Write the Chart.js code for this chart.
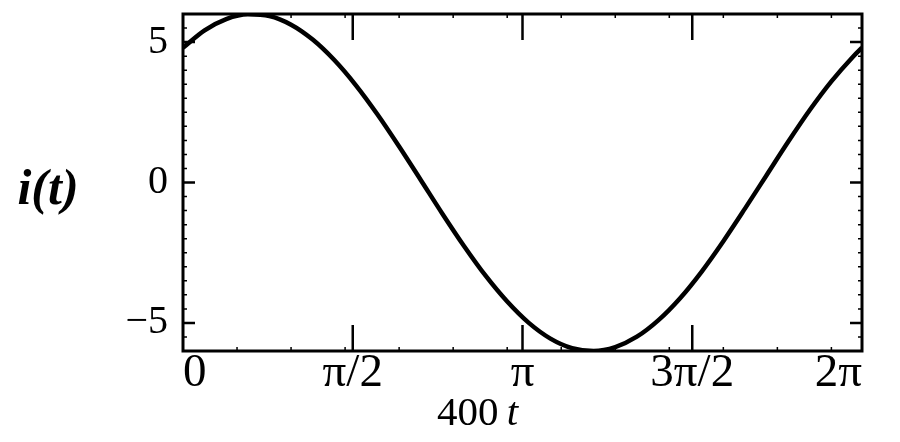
<!DOCTYPE html>
<html>
<head>
<meta charset="utf-8">
<script src="https://cdn.jsdelivr.net/npm/chart.js@4.4.1/dist/chart.umd.min.js"></script>
<style>
html,body{margin:0;padding:0;background:#fff;}
#wrap{width:900px;height:442px;position:relative;}
</style>
</head>
<body>
<div id="wrap"><canvas id="c" width="900" height="442"></canvas></div>
<script>
// Data (x = 400t in radians, y = i(t))
const xValues = [0, 0.2, 0.4, 0.6, 0.8, 1.0, 1.2, 1.4, 1.6, 1.8, 2.0, 2.2, 2.4, 2.6, 2.8, 3.0, 3.2, 3.4, 3.6, 3.8, 4.0, 4.2, 4.4, 4.6, 4.8, 5.0, 5.2, 5.4, 5.6, 5.8, 6.0, 6.2, 6.283];
const iValues = [4.80, 5.42, 5.82, 5.99, 5.93, 5.62, 5.09, 4.36, 3.46, 2.42, 1.28, 0.09, -1.11, -2.26, -3.32, -4.24, -5.00, -5.56, -5.90, -6.00, -5.86, -5.49, -4.90, -4.12, -3.17, -2.09, -0.93, 0.26, 1.45, 2.58, 3.60, 4.48, 4.80];
const xTickValues = [0, Math.PI / 2, Math.PI, 3 * Math.PI / 2, 2 * Math.PI];
const xTickLabels = ['0', 'π/2', 'π', '3π/2', '2π'];
const xMinorTicks = [0.5, 1.0, 1.5, 2.0, 2.5, 3.0, 3.5, 4.0, 4.5, 5.0, 5.5, 6.0];
const yTickValues = [-5, 0, 5];
const yTickLabels = ['−5', '0', '5'];
const yMinorTicks = [-5.5, -4.5, -4, -3.5, -3, -2.5, -2, -1.5, -1, -0.5, 0.5, 1, 1.5, 2, 2.5, 3, 3.5, 4, 4.5, 5.5];
const xAxisTitle = ['400', 't'];
const yAxisTitle = 'i(t)';

const points = xValues.map((x, k) => ({x: x, y: iValues[k]}));

const framePlugin = {
  id: 'frame',
  afterDraw(chart) {
    const ctx = chart.ctx;
    const a = chart.chartArea;
    const xs = chart.scales.x, ys = chart.scales.y;
    ctx.save();
    ctx.strokeStyle = '#000';
    ctx.lineWidth = 3;
    ctx.strokeRect(a.left, a.top, a.right - a.left, a.bottom - a.top);
    ctx.lineWidth = 2.5;
    ctx.beginPath();
    xTickValues.forEach(v => {
      const p = xs.getPixelForValue(v);
      if (v > 0.01 && v < 6.2) {
        ctx.moveTo(p, a.bottom); ctx.lineTo(p, a.bottom - 26);
        ctx.moveTo(p, a.top); ctx.lineTo(p, a.top + 26);
      }
    });
    yTickValues.forEach(v => {
      const p = ys.getPixelForValue(v);
      ctx.moveTo(a.left, p); ctx.lineTo(a.left + 12, p);
      ctx.moveTo(a.right, p); ctx.lineTo(a.right - 12, p);
    });
    ctx.stroke();
    ctx.lineWidth = 1.5;
    ctx.beginPath();
    xMinorTicks.forEach(v => {
      const p = xs.getPixelForValue(v);
      ctx.moveTo(p, a.bottom); ctx.lineTo(p, a.bottom - 4);
      ctx.moveTo(p, a.top); ctx.lineTo(p, a.top + 4);
    });
    yMinorTicks.forEach(v => {
      const p = ys.getPixelForValue(v);
      ctx.moveTo(a.left, p); ctx.lineTo(a.left + 4, p);
      ctx.moveTo(a.right, p); ctx.lineTo(a.right - 4, p);
    });
    ctx.stroke();

    // axis titles
    ctx.fillStyle = '#000';
    ctx.textBaseline = 'alphabetic';
    ctx.textAlign = 'left';
    ctx.font = '41px "Liberation Serif"';
    const numW = ctx.measureText(xAxisTitle[0] + ' ').width;
    const startX = 437;
    ctx.fillText(xAxisTitle[0], startX, 425);
    ctx.font = 'italic 41px "Liberation Serif"';
    ctx.fillText(xAxisTitle[1], startX + numW - 2, 425);

    ctx.font = 'bold italic 50px "Liberation Serif"';
    ctx.textAlign = 'center';
    ctx.fillText(yAxisTitle, 48, 204);
    ctx.restore();
  }
};

new Chart(document.getElementById('c'), {
  type: 'line',
  data: {
    datasets: [{
      data: points,
      borderColor: '#000',
      borderWidth: 4.5,
      pointRadius: 0,
      cubicInterpolationMode: 'monotone',
      fill: false
    }]
  },
  options: {
    responsive: false,
    animation: false,
    devicePixelRatio: 1,
    layout: {padding: {top: 14, right: 38, left: 0, bottom: 0}},
    plugins: {legend: {display: false}, tooltip: {enabled: false}},
    scales: {
      x: {
        type: 'linear',
        min: 0,
        max: 2 * Math.PI,
        grid: {display: false, drawTicks: false},
        border: {display: false},
        afterBuildTicks(scale) { scale.ticks = xTickValues.map(v => ({value: v})); },
        afterFit(scale) { scale.height = 91; scale.paddingLeft = 0; scale.paddingRight = 0; },
        ticks: {
          align: 'inner',
          autoSkip: false,
          maxRotation: 0,
          padding: -6,
          color: '#000',
          font: {family: '"Liberation Serif"', size: 47},
          callback: (v, k) => xTickLabels[k]
        }
      },
      y: {
        type: 'linear',
        min: -6,
        max: 6,
        grid: {display: false, drawTicks: false},
        border: {display: false},
        afterBuildTicks(scale) { scale.ticks = yTickValues.map(v => ({value: v})); },
        afterFit(scale) { scale.width = 183; scale.paddingTop = 0; scale.paddingBottom = 0; },
        ticks: {
          autoSkip: false,
          padding: 15,
          color: '#000',
          font: {family: '"Liberation Serif"', size: 40},
          callback: (v, k) => yTickLabels[k]
        }
      }
    }
  },
  plugins: [framePlugin]
});
</script>
</body>
</html>
